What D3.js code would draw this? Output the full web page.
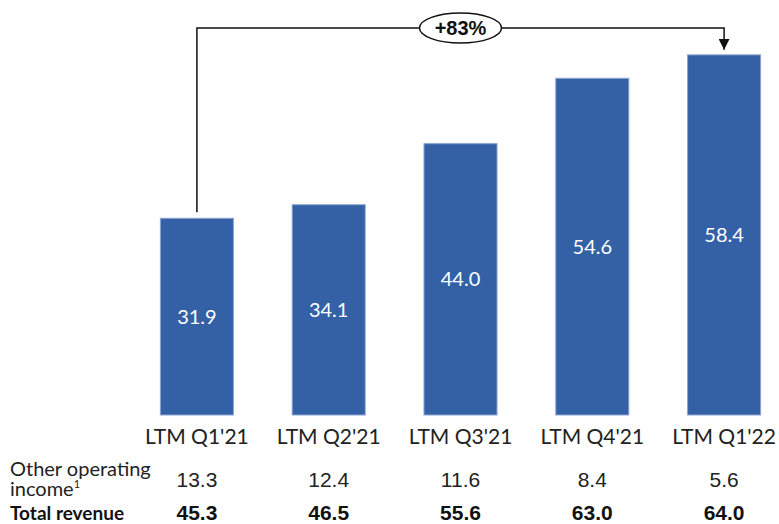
<!DOCTYPE html>
<html>
<head>
<meta charset="utf-8">
<script src="https://cdn.jsdelivr.net/npm/d3@7"></script>
<style>
  html, body { margin: 0; padding: 0; background: #fff; }
  svg { display: block; }
</style>
</head>
<body>
<div id="chart"></div>
<script>
// LTM revenue by quarter
const categories = ["LTM Q1'21", "LTM Q2'21", "LTM Q3'21", "LTM Q4'21", "LTM Q1'22"]
const barValues = [31.9, 34.1, 44.0, 54.6, 58.4]
const otherIncome = ['13.3', '12.4', '11.6', '8.4', '5.6']
const totalRevenue = ['45.3', '46.5', '55.6', '63.0', '64.0']
const growthLabel = '+83%'

const width = 779
const height = 524
const labelFont = "'Lato', 'Noto Sans', sans-serif"
const numFont = "'Liberation Sans', Arial, sans-serif"

const svg = d3.select('#chart')
  .append('svg')
  .attr('width', width)
  .attr('height', height)

const x = d3.scaleBand()
  .domain(categories)
  .range([131, 790])
  .paddingInner(0.446)
  .paddingOuter(0.223)

const y = d3.scaleLinear()
  .domain([0, 60])
  .range([415, 45])

// arrow marker
svg.append('defs').append('marker')
  .attr('id', 'arrow')
  .attr('viewBox', '0 0 10 10')
  .attr('refX', 10)
  .attr('refY', 5)
  .attr('markerWidth', 11)
  .attr('markerHeight', 11)
  .attr('markerUnits', 'userSpaceOnUse')
  .attr('orient', 'auto')
  .append('path')
  .attr('d', 'M0,0 L10,5 L0,10 Z')
  .attr('fill', '#111')

// bars
svg.selectAll('rect.bar')
  .data(barValues)
  .enter()
  .append('rect')
  .attr('class', 'bar')
  .attr('x', (d, i) => x(categories[i]))
  .attr('y', d => y(d))
  .attr('width', x.bandwidth())
  .attr('height', d => y(0) - y(d))
  .attr('fill', '#3461a6')
  .attr('stroke', '#8aa4cf')
  .attr('stroke-width', 1)

// values inside bars
svg.selectAll('text.val')
  .data(barValues)
  .enter()
  .append('text')
  .attr('class', 'val')
  .attr('x', (d, i) => x(categories[i]) + x.bandwidth() / 2)
  .attr('y', d => (y(d) + y(0)) / 2)
  .attr('dy', '0.35em')
  .attr('text-anchor', 'middle')
  .attr('fill', '#fff')
  .style('font-family', labelFont)
  .style('font-size', '20px')
  .text(d => d.toFixed(1))

// category labels
const xAxis = svg.append('g')
  .attr('transform', `translate(0,${y(0)})`)
  .call(d3.axisBottom(x).tickSize(0).tickPadding(14))
xAxis.select('.domain').remove()
xAxis.selectAll('text')
  .attr('fill', '#222')
  .style('font-family', labelFont)
  .style('font-size', '21px')

// growth bracket
const cx = i => x(categories[i]) + x.bandwidth() / 2
const last = categories.length - 1
const lineY = 28
svg.append('path')
  .attr('d', `M${cx(0)},${y(barValues[0]) - 6} V${lineY} H${cx(last)} V${y(barValues[last]) - 5}`)
  .attr('fill', 'none')
  .attr('stroke', '#111')
  .attr('stroke-width', 1.5)
  .attr('marker-end', 'url(#arrow)')

const midX = (x(categories[2]) + x.bandwidth() / 2)
svg.append('ellipse')
  .attr('cx', midX)
  .attr('cy', lineY)
  .attr('rx', 41)
  .attr('ry', 15)
  .attr('fill', '#fff')
  .attr('stroke', '#111')
  .attr('stroke-width', 1.5)

svg.append('text')
  .attr('x', midX)
  .attr('y', lineY)
  .attr('dy', '0.36em')
  .attr('text-anchor', 'middle')
  .attr('fill', '#111')
  .style('font-family', numFont)
  .style('font-weight', 'bold')
  .style('font-size', '20px')
  .text(growthLabel)

// table rows
const rowLabel = svg.append('text')
  .attr('x', 10)
  .attr('fill', '#222')
  .style('font-family', labelFont)
  .style('font-size', '20px')
rowLabel.append('tspan').attr('x', 10).attr('y', 476).text('Other operating')
rowLabel.append('tspan').attr('x', 10).attr('y', 496).text('income')
rowLabel.append('tspan').attr('dy', -8).style('font-size', '11px').text('1')

svg.append('text')
  .attr('x', 10)
  .attr('y', 520)
  .attr('fill', '#111')
  .style('font-family', labelFont)
  .style('font-weight', 'bold')
  .style('font-size', '19px')
  .text('Total revenue')

svg.selectAll('text.other')
  .data(otherIncome)
  .enter()
  .append('text')
  .attr('class', 'other')
  .attr('x', (d, i) => cx(i))
  .attr('y', 487)
  .attr('text-anchor', 'middle')
  .attr('fill', '#222')
  .style('font-family', numFont)
  .style('font-size', '21px')
  .text(d => d)

svg.selectAll('text.total')
  .data(totalRevenue)
  .enter()
  .append('text')
  .attr('class', 'total')
  .attr('x', (d, i) => cx(i))
  .attr('y', 520)
  .attr('text-anchor', 'middle')
  .attr('fill', '#111')
  .style('font-family', numFont)
  .style('font-weight', 'bold')
  .style('font-size', '21px')
  .text(d => d)
</script>
</body>
</html>
